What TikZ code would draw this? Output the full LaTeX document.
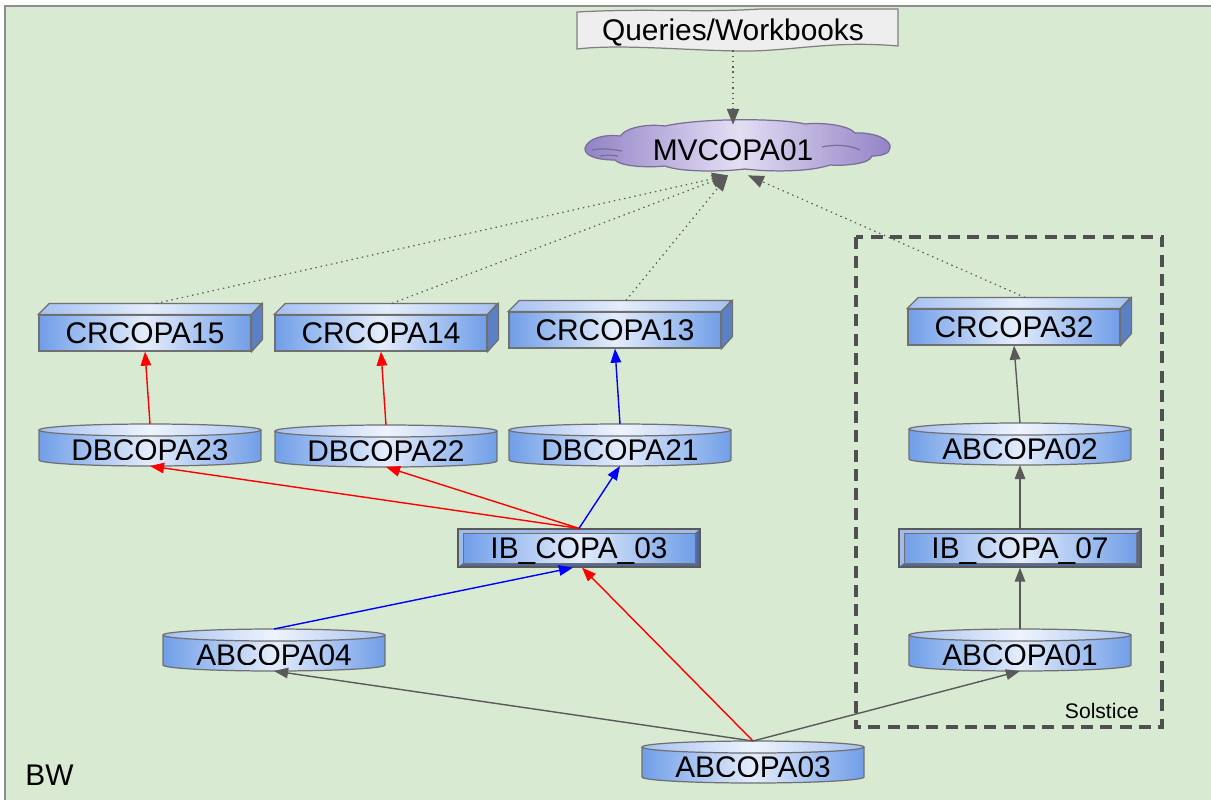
\documentclass[tikz,border=0pt]{standalone}
\usepackage{fontspec}
\setmainfont{Liberation Sans}
\usetikzlibrary{arrows.meta}

\definecolor{bwgreen}{RGB}{217,234,211}
\definecolor{framegray}{RGB}{142,142,142}
\definecolor{edgegray}{RGB}{112,112,112}
\definecolor{boxblue}{RGB}{112,158,232}
\definecolor{boxlight}{RGB}{228,237,251}
\definecolor{topblue}{RGB}{165,192,240}
\definecolor{sideblue}{RGB}{92,128,196}
\definecolor{bevdark}{RGB}{84,106,150}
\definecolor{bevlight}{RGB}{160,188,236}
\definecolor{cloudpurple}{RGB}{146,130,198}
\definecolor{cloudlight}{RGB}{228,222,244}
\definecolor{cloudedge}{RGB}{120,110,150}
\definecolor{docgray}{RGB}{238,238,238}
\definecolor{linkgray}{RGB}{90,90,90}
\definecolor{boxgray}{RGB}{80,80,80}

\tikzset{
  boxtext/.style={font=\fontsize{17}{20}\selectfont, text depth=0pt, inner sep=0pt},
  bluegrad/.style={left color=boxblue, right color=boxblue, middle color=boxlight},
  cubefront/.style={boxtext, rectangle, draw=edgegray, line width=0.7pt, bluegrad,
    minimum width=4.24cm, minimum height=0.72cm},
  cubetop/.style={draw=edgegray, line width=0.7pt, left color=topblue, right color=topblue, middle color=boxlight},
  cubeside/.style={draw=edgegray, line width=0.7pt, fill=sideblue},
  cylnode/.style={boxtext, rectangle, bluegrad, minimum width=4.44cm, minimum height=0.6cm,
    outer xsep=0pt, outer ysep=0.12cm},
  cyltop/.style={draw=edgegray, line width=0.7pt, left color=topblue, right color=topblue, middle color=boxlight!60!white},
  ibnode/.style={boxtext, rectangle, draw=edgegray!80!black, line width=0.7pt, fill=bevdark,
    minimum width=4.84cm, minimum height=0.76cm,
    path picture={
      \fill[bevlight] (path picture bounding box.north west) -- (path picture bounding box.north east)
        -- ([shift={(-0.1cm,-0.08cm)}]path picture bounding box.north east)
        -- ([shift={(0.1cm,-0.08cm)}]path picture bounding box.north west)
        -- ([shift={(0.1cm,0.08cm)}]path picture bounding box.south west)
        -- (path picture bounding box.south west) -- cycle;
      \shadedraw[bluegrad, draw=edgegray, line width=0.4pt]
        ([shift={(0.1cm,-0.08cm)}]path picture bounding box.north west) rectangle
        ([shift={(-0.1cm,0.08cm)}]path picture bounding box.south east);
    }},
  cloudshape/.style={draw=cloudedge, line width=0.7pt,
    left color=cloudpurple, right color=cloudpurple, middle color=cloudlight},
  docshape/.style={draw=gray, line width=0.7pt, fill=docgray},
  redlink/.style={draw=red, line width=0.8pt, -{Triangle[length=8pt,width=6pt]}},
  bluelink/.style={draw=blue, line width=0.8pt, -{Triangle[length=8pt,width=6pt]}},
  graylink/.style={draw=linkgray, line width=0.8pt, -{Triangle[length=8pt,width=6pt]}},
  dotlink/.style={draw=linkgray, line width=0.7pt, dash pattern=on 0.8pt off 2.2pt,
    -{Triangle[length=9pt,width=7pt]}},
  solsticebox/.style={draw=boxgray, line width=1.9pt, dash pattern=on 6.8pt off 4.2pt}
}

% cube: name, x, y, text
\newcommand{\crcube}[4]{%
  \node[cubefront] (#1) at (#2,#3) {#4};
  \draw[cubetop] (#1.north west) -- ++(11,-11) -- ++(212,0) -- (#1.north east) -- cycle;
  \draw[cubeside] (#1.north east) -- ++(11,-11) -- ++(0,36) -- (#1.south east) -- cycle;
}
% cylinder: name, x, y, text
\newcommand{\dbcyl}[4]{%
  \node[cylnode] (#1) at (#2,#3) {\raisebox{-0.1cm}[\height][\depth]{#4}};
  \shade[bluegrad] ([yshift=0.12cm]#1.south west)
    arc[start angle=180,end angle=360,x radius=2.22cm,y radius=0.12cm] -- cycle;
  \draw[edgegray, line width=0.7pt] ([yshift=-0.12cm]#1.north west) -- ([yshift=0.12cm]#1.south west)
    arc[start angle=180,end angle=360,x radius=2.22cm,y radius=0.12cm]
    -- ([yshift=-0.12cm]#1.north east);
  \draw[cyltop] ([yshift=-0.12cm]#1.north) ellipse[x radius=2.22cm,y radius=0.12cm];
}

\begin{document}
\begin{tikzpicture}[x=0.02cm,y=-0.02cm]
  \useasboundingbox (0,0) rectangle (1211,799);
  \fill[bwgreen] (5,6) rectangle (1220,810);
  \draw[framegray, line width=1.2pt] (5,810) -- (5,6) -- (1220,6);

  % top
  \filldraw[docshape] (577,12) .. controls (650,8) and (700,13) .. (760,9) -- (898,9) -- (898,46)
    .. controls (830,40) and (790,52) .. (737,51) .. controls (680,50) and (620,44) .. (577,49) -- cycle;
  \node[boxtext, minimum height=0.8cm] (queries) at (733,30) {Queries/Workbooks};

  \shadedraw[cloudshape] (585,148) .. controls (588,138) and (605,134) .. (620,136)
    .. controls (628,126) and (650,124) .. (665,126)
    .. controls (700,118) and (780,118) .. (805,124)
    .. controls (825,122) and (850,126) .. (855,133)
    .. controls (875,132) and (892,140) .. (890,148)
    .. controls (890,154) and (880,156) .. (872,156)
    .. controls (870,164) and (845,166) .. (830,165)
    .. controls (810,172) and (770,172) .. (745,169)
    .. controls (720,172) and (680,172) .. (665,166)
    .. controls (645,168) and (620,166) .. (615,160)
    .. controls (595,160) and (584,155) .. (585,148) -- cycle;
  \draw[cloudedge, line width=0.7pt] (592,150) .. controls (600,148) and (612,149) .. (622,151);
  \draw[cloudedge, line width=0.7pt] (600,156) .. controls (606,155) and (612,155) .. (618,156);
  \draw[cloudedge, line width=0.7pt] (822,147) .. controls (835,144) and (850,145) .. (860,150);
  \node[boxtext, minimum height=1.0cm] (mvcopa) at (733,150) {MVCOPA01};

  % cubes
  \crcube{crcopa15}{145}{333}{CRCOPA15}
  \crcube{crcopa14}{381}{333}{CRCOPA14}
  \crcube{crcopa13}{615}{330}{CRCOPA13}
  \crcube{crcopa32}{1014}{327}{CRCOPA32}

  % cylinders
  \dbcyl{dbcopa23}{150}{445}{DBCOPA23}
  \dbcyl{dbcopa22}{386}{446}{DBCOPA22}
  \dbcyl{dbcopa21}{620}{445}{DBCOPA21}
  \dbcyl{abcopa02}{1020}{444}{ABCOPA02}
  \dbcyl{abcopa04}{274}{650}{ABCOPA04}
  \dbcyl{abcopa01}{1020}{650}{ABCOPA01}
  \dbcyl{abcopa03}{753}{762}{ABCOPA03}

  % info sources
  \node[ibnode] (ibcopa03) at (579,548) {IB\_COPA\_03};
  \node[ibnode] (ibcopa07) at (1020,548) {IB\_COPA\_07};

  \draw[solsticebox] (856,237) rectangle (1162,727);
  \node[font=\fontsize{12}{14}\selectfont, anchor=east] (solstice) at (1145,711) {Solstice};
  \node[boxtext, anchor=west] (bw) at (25,775) {BW};

  % links
  \draw[dotlink] (queries.south) -- (mvcopa.north);
  \draw[dotlink] ([shift={(11,-11)}]crcopa15.north) -- ([xshift=-0.1cm]mvcopa.south);
  \draw[dotlink] ([shift={(11,-11)}]crcopa14.north) -- ([xshift=-0.1cm]mvcopa.south);
  \draw[dotlink] ([shift={(11,-11)}]crcopa13.north) -- ([xshift=-0.1cm]mvcopa.south);
  \draw[dotlink] ([shift={(11,-11)}]crcopa32.north) -- ([xshift=0.3cm]mvcopa.south);

  \draw[redlink] (dbcopa23.north) -- (crcopa15.south);
  \draw[redlink] (dbcopa22.north) -- (crcopa14.south);
  \draw[bluelink] (dbcopa21.north) -- (crcopa13.south);
  \draw[graylink] (abcopa02.north) -- (crcopa32.south);
  \draw[redlink] (ibcopa03.north) -- (dbcopa23.south);
  \draw[redlink] (ibcopa03.north) -- (dbcopa22.south);
  \draw[bluelink] (ibcopa03.north) -- (dbcopa21.south);
  \draw[bluelink] (abcopa04.north) -- ([xshift=-0.12cm]ibcopa03.south);
  \draw[redlink] (abcopa03.north) -- ([xshift=0.06cm]ibcopa03.south);
  \draw[graylink] (abcopa03.north) -- (abcopa04.south);
  \draw[graylink] (abcopa03.north) -- (abcopa01.south);
  \draw[graylink] (abcopa01.north) -- (ibcopa07.south);
  \draw[graylink] (ibcopa07.north) -- (abcopa02.south);
\end{tikzpicture}
\end{document}
